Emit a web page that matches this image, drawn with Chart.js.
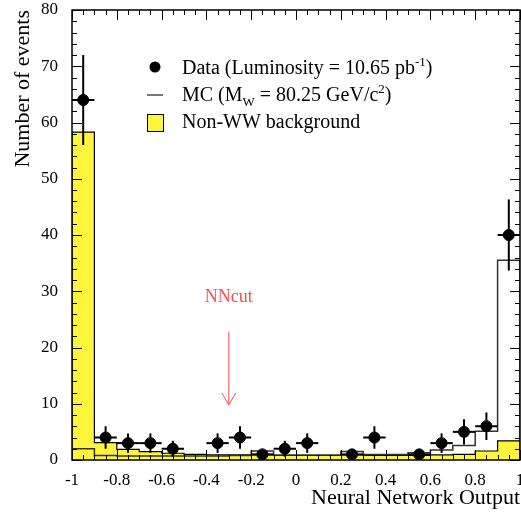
<!DOCTYPE html>
<html>
<head>
<meta charset="utf-8">
<script src="https://cdn.jsdelivr.net/npm/chart.js@4.4.0/dist/chart.umd.min.js"></script>
<style>
  html, body { margin: 0; padding: 0; background: #fff; }
</style>
</head>
<body>
<canvas id="nnChart" width="521" height="515"></canvas>
<script>
// histogram bins of the network output, 0.1 wide
const binCenters = [-0.95, -0.85, -0.75, -0.65, -0.55, -0.45, -0.35, -0.25, -0.15, -0.05,
                    0.05, 0.15, 0.25, 0.35, 0.45, 0.55, 0.65, 0.75, 0.85, 0.95];
const binWidth = 0.1;

const dataCounts = [64, 4, 3, 3, 2, 0, 3, 4, 1, 2, 3, 0, 1, 4, 0, 1, 3, 5, 6, 40];
const mcCounts = [2.0, 0.8, 0.7, 0.7, 0.7, 0.7, 0.7, 0.8, 1.6, 0.9, 0.9, 0.9, 1.5, 1.0, 1.0, 1.3, 1.8, 2.6, 5.1, 35.5];
const bkgCounts = [58.3, 3.1, 1.9, 1.5, 1.2, 1.0, 0.9, 0.9, 0.9, 0.8, 0.8, 0.8, 0.9, 0.8, 0.8, 0.8, 0.9, 1.0, 1.6, 3.4];

const xTickValues = [-1, -0.8, -0.6, -0.4, -0.2, 0, 0.2, 0.4, 0.6, 0.8, 1];
const xTickLabels = ["-1", "-0.8", "-0.6", "-0.4", "-0.2", "0", "0.2", "0.4", "0.6", "0.8", "1"];
const yTickValues = [0, 10, 20, 30, 40, 50, 60, 70, 80];
const yTickLabels = ["0", "10", "20", "30", "40", "50", "60", "70", "80"];

const nnCut = -0.3;

const SERIF = '"Liberation Serif", "Times New Roman", serif';
const YELLOW = "#fff53c";
const RED = "#ff4a4a";

function stepPoints(counts) {
    const pts = [{ x: binCenters[0] - binWidth / 2, y: 0 }];
    counts.forEach((v, i) => {
        pts.push({ x: binCenters[i] - binWidth / 2, y: v });
        pts.push({ x: binCenters[i] + binWidth / 2, y: v });
    });
    pts.push({ x: binCenters[binCenters.length - 1] + binWidth / 2, y: 0 });
    return pts;
}

const dataPoints = [];
dataCounts.forEach((n, i) => {
    if (n > 0) dataPoints.push({ x: binCenters[i], y: n });
});

function seg(ctx, x1, y1, x2, y2) {
    ctx.beginPath();
    ctx.moveTo(x1, y1);
    ctx.lineTo(x2, y2);
    ctx.stroke();
}

// text runs with super/subscripts
function drawRuns(ctx, runs, x, y, size) {
    runs.forEach(r => {
        let s = size, dy = 0;
        if (r.sup) { s = Math.round(size * 0.65); dy = -size * 0.42; }
        if (r.sub) { s = Math.round(size * 0.65); dy = size * 0.25; }
        ctx.font = s + "px " + SERIF;
        ctx.fillText(r.t, x, y + dy);
        x += ctx.measureText(r.t).width;
    });
}

// poisson error bars, drawn just before the data markers
const errorBars = {
    id: "errorBars",
    beforeDatasetDraw(chart, args) {
        if (args.index !== 0) return;
        const { ctx, scales: { x, y } } = chart;
        ctx.save();
        ctx.strokeStyle = "#000";
        ctx.lineWidth = 2;
        dataPoints.forEach(p => {
            const err = Math.sqrt(p.y);
            const px = x.getPixelForValue(p.x);
            const py = y.getPixelForValue(p.y);
            seg(ctx, x.getPixelForValue(p.x - binWidth / 2), py, x.getPixelForValue(p.x + binWidth / 2), py);
            seg(ctx, px, y.getPixelForValue(p.y + err), px, y.getPixelForValue(Math.max(p.y - err, 0)));
        });
        ctx.restore();
    }
};

const frameTicks = {
    id: "frameTicks",
    afterDatasetsDraw(chart) {
        const { ctx, chartArea: a, scales: { x, y } } = chart;
        ctx.save();
        ctx.strokeStyle = "#000";
        ctx.lineWidth = 1;
        for (let i = 0; i <= 40; i++) {
            const px = Math.round(x.getPixelForValue(-1 + i * 0.05)) + 0.5;
            const len = i % 4 === 0 ? 10 : 5;
            seg(ctx, px, a.bottom, px, a.bottom - len);
            seg(ctx, px, a.top, px, a.top + len);
        }
        for (let v = 0; v <= 80; v += 2) {
            const py = Math.round(y.getPixelForValue(v)) + 0.5;
            const len = v % 10 === 0 ? 10 : 5;
            seg(ctx, a.left, py, a.left + len, py);
            seg(ctx, a.right, py, a.right - len, py);
        }
        ctx.lineWidth = 1.5;
        ctx.strokeRect(a.left, a.top, a.right - a.left, a.bottom - a.top);

        // cut marker
        const cx = x.getPixelForValue(nnCut);
        const top = y.getPixelForValue(22.8);
        const tip = y.getPixelForValue(9.8);
        ctx.strokeStyle = RED;
        ctx.lineWidth = 1;
        seg(ctx, cx, top, cx, tip);
        seg(ctx, cx - 7, tip - 12, cx, tip);
        seg(ctx, cx + 7, tip - 12, cx, tip);
        ctx.fillStyle = RED;
        ctx.font = "18px " + SERIF;
        ctx.textAlign = "center";
        ctx.textBaseline = "middle";
        ctx.fillText("NNcut", cx, y.getPixelForValue(29));
        ctx.restore();
    },
    afterDraw(chart) {
        const ctx = chart.ctx;
        ctx.save();
        ctx.fillStyle = "#000";
        ctx.textAlign = "left";
        ctx.textBaseline = "alphabetic";

        ctx.beginPath();
        ctx.arc(155, 67, 5.5, 0, Math.PI * 2);
        ctx.fill();
        drawRuns(ctx, [{ t: "Data (Luminosity = 10.65 pb" }, { t: "-1", sup: true }, { t: ")" }], 182, 74, 20);

        ctx.strokeStyle = "#777";
        ctx.lineWidth = 2;
        seg(ctx, 147, 95, 163, 95);
        drawRuns(ctx, [{ t: "MC (M" }, { t: "W", sub: true }, { t: " = 80.25 GeV/c" }, { t: "2", sup: true }, { t: ")" }], 182, 101, 20);

        ctx.fillStyle = YELLOW;
        ctx.fillRect(147.5, 114.5, 16, 17);
        ctx.strokeStyle = "#000";
        ctx.lineWidth = 1;
        ctx.strokeRect(147.5, 114.5, 16, 17);
        ctx.fillStyle = "#000";
        drawRuns(ctx, [{ t: "Non-WW background" }], 182, 128, 20);
        ctx.restore();
    }
};

new Chart(document.getElementById("nnChart"), {
    type: "line",
    data: {
        datasets: [
            {
                label: "Data",
                data: dataPoints,
                showLine: false,
                pointRadius: 5.5,
                pointBackgroundColor: "#000",
                pointBorderColor: "#000",
                order: 0
            },
            {
                label: "MC",
                data: stepPoints(mcCounts),
                borderColor: "#333",
                borderWidth: 1.5,
                pointRadius: 0,
                fill: false,
                tension: 0,
                order: 1
            },
            {
                label: "Non-WW background",
                data: stepPoints(bkgCounts),
                borderColor: "#000",
                borderWidth: 1.2,
                backgroundColor: YELLOW,
                pointRadius: 0,
                fill: "origin",
                tension: 0,
                order: 2
            }
        ]
    },
    options: {
        responsive: false,
        animation: false,
        events: [],
        layout: { autoPadding: false, padding: { top: 10, right: 1, left: 0, bottom: 0 } },
        plugins: { legend: { display: false }, tooltip: { enabled: false } },
        scales: {
            x: {
                type: "linear",
                min: -1,
                max: 1,
                grid: { display: false, drawTicks: false },
                border: { display: false },
                afterBuildTicks: s => { s.ticks = xTickValues.map(v => ({ value: v })); },
                afterFit: s => {
                    s.height = 55;
                    s.paddingLeft = 0;
                    s.paddingRight = 0;
                },
                ticks: {
                    autoSkip: false,
                    maxRotation: 0,
                    padding: 10,
                    color: "#000",
                    font: { family: SERIF, size: 17 },
                    callback: (v, i) => xTickLabels[i]
                },
                title: {
                    display: true,
                    text: "Neural Network Output",
                    align: "end",
                    color: "#000",
                    font: { family: SERIF, size: 22 },
                    padding: { top: 0, bottom: 4 }
                }
            },
            y: {
                type: "linear",
                min: 0,
                max: 80,
                grid: { display: false, drawTicks: false },
                border: { display: false },
                afterBuildTicks: s => { s.ticks = yTickValues.map(v => ({ value: v })); },
                afterFit: s => {
                    s.width = 72;
                    s.paddingTop = 0;
                    s.paddingBottom = 0;
                },
                ticks: {
                    padding: 14,
                    color: "#000",
                    font: { family: SERIF, size: 17 },
                    callback: (v, i) => yTickLabels[i]
                },
                title: {
                    display: true,
                    text: "Number of events",
                    align: "end",
                    color: "#000",
                    font: { family: SERIF, size: 22 },
                    padding: { top: 10, bottom: 0 }
                }
            }
        }
    },
    plugins: [errorBars, frameTicks]
});
</script>
</body>
</html>
